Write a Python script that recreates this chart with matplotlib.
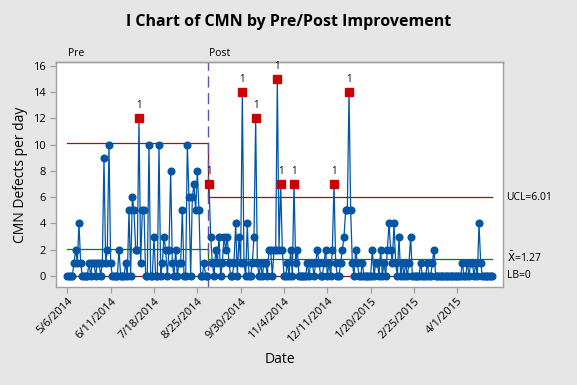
import matplotlib
matplotlib.use("Agg")
import matplotlib.pyplot as plt
import numpy as np

plt.rcParams["font.family"] = ["Open Sans", "DejaVu Sans"]

# daily CMN defect counts
pre_values = [
    0, 0, 0, 0, 1, 2, 1, 4, 1, 0, 0, 0, 0, 1, 0, 1, 1, 0, 1, 1,
    0, 1, 9, 1, 2, 10, 1, 0, 0, 0, 0, 2, 0, 0, 0, 1, 0, 5, 0, 6,
    5, 2, 2, 12, 1, 5, 5, 0, 0, 10, 0, 0, 3, 0, 0, 10, 0, 1, 3, 2,
    0, 2, 8, 1, 0, 2, 0, 1, 1, 5, 0, 0, 10, 6, 0, 6, 7, 5, 8, 5,
    0, 0, 1, 0, 0,
]
post_values = [
    7, 3, 1, 0, 2, 1, 3, 0, 1, 3, 2, 3, 1, 0, 0, 1, 4, 0, 3, 1,
    14, 1, 0, 4, 0, 0, 1, 3, 12, 1, 0, 1, 0, 1, 1, 0, 2, 2, 0, 2,
    2, 15, 2, 7, 2, 0, 0, 1, 0, 2, 0, 7, 1, 2, 0, 0, 0, 0, 0, 1,
    0, 1, 1, 0, 1, 2, 1, 0, 0, 1, 2, 0, 1, 0, 2, 7, 1, 0, 0, 1,
    2, 3, 5, 5, 14, 5, 1, 0, 2, 1, 0, 0, 1, 0, 0, 0, 0, 0, 2, 0,
    1, 1, 0, 2, 0, 1, 0, 2, 4, 2, 1, 4, 1, 0, 3, 0, 1, 0, 1, 0,
    1, 3, 0, 0, 0, 0, 0, 1, 0, 0, 0, 1, 0, 0, 1, 2, 0, 0, 0, 0,
    0, 0, 0, 0, 0, 0, 0, 0, 0, 0, 0, 0, 1, 0, 0, 1, 0, 1, 1, 0,
    1, 0, 4, 1, 0, 0, 0, 0, 0, 0, 0,
]

stage_names = ["Pre", "Post"]
stage_center = [2.07, 1.27]
stage_ucl = [10.13, 6.01]
stage_lb = [0, 0]

tick_labels = ["5/6/2014", "6/11/2014", "7/18/2014", "8/25/2014", "9/30/2014",
               "11/4/2014", "12/11/2014", "1/20/2015", "2/25/2015", "4/1/2015"]
tick_step = 26

values = np.array(pre_values + post_values)
n_pre = len(pre_values)
x = np.arange(len(values))

blue = "#0055A5"
red = "#CC0000"
green = "#008000"
limit_red = "#8B1A1A"

fig = plt.figure(figsize=(5.77, 3.85), dpi=100, facecolor="#E6E6E6")
ax = fig.add_axes([0.0976, 0.2538, 0.7736, 0.5852])
ax.set_facecolor("white")

split = n_pre - 0.5
bounds = [(0, split), (split, len(values) - 1)]
for k in range(2):
    x0, x1 = bounds[k]
    ax.plot([x0, x1], [stage_ucl[k]] * 2, color=limit_red, lw=0.9, zorder=1)
    ax.plot([x0, x1], [stage_lb[k]] * 2, color=limit_red, lw=0.9, zorder=1)
    ax.plot([x0, x1], [stage_center[k]] * 2, color=green, lw=0.9, zorder=1)
ax.plot([split, split], [stage_ucl[0], stage_ucl[1]], color=limit_red, lw=0.9, zorder=1)
ax.plot([split, split], [stage_center[0], stage_center[1]], color=green, lw=0.9, zorder=1)

ax.axvline(split, color="#6B4FA6", lw=1.0, ls=(0, (8, 4)), zorder=1)

for seg in [slice(0, n_pre), slice(n_pre, len(values))]:
    ax.plot(x[seg], values[seg], color=blue, lw=0.9, marker="o", ms=4.8,
            mec=blue, mfc=blue, zorder=2)

ucl_per_point = np.where(x < n_pre, stage_ucl[0], stage_ucl[1])
out = values > ucl_per_point
ax.plot(x[out], values[out], ls="none", marker="s", ms=5.5, mfc=red, mec=red, zorder=3)
for xi, yi in zip(x[out], values[out]):
    ax.text(xi, yi + 0.55, "1", ha="center", va="bottom", fontsize=7, color="black")

ax.set_xlim(-6.6, 261.2)
ax.set_ylim(-0.86, 16.3)
ax.set_yticks(range(0, 17, 2))
ax.set_xticks(np.arange(len(tick_labels)) * tick_step)
ax.set_xticklabels(tick_labels, rotation=45, ha="right", rotation_mode="anchor")
ax.tick_params(axis="both", labelsize=8, color="#A0A0A0", length=4, width=0.9)
ax.tick_params(axis="x", pad=2)
for s in ax.spines.values():
    s.set_color("#A0A0A0")
    s.set_linewidth(1.0)

ax.set_ylabel("CMN Defects per day", fontsize=10)
ax.set_xlabel("Date", fontsize=10, labelpad=5)

ax.text(0.5, 16.55, stage_names[0], fontsize=7.5, va="bottom", ha="left")
ax.text(split + 0.8, 16.55, stage_names[1], fontsize=7.5, va="bottom", ha="left")
ax.axhline(16.3, color="#A0A0A0", lw=1.0, clip_on=False)

ax.text(263.5, stage_ucl[1], f"UCL={stage_ucl[1]:.2f}", fontsize=7.5, va="center", ha="left")
ax.text(263.5, stage_center[1] + 0.1, r"$\bar{\mathrm{X}}$" + f"={stage_center[1]:.2f}",
        fontsize=7.5, va="center", ha="left")
ax.text(263.5, 0, "LB=0", fontsize=7.5, va="center", ha="left")

fig.text(0.5, 0.943, "I Chart of CMN by Pre/Post Improvement", ha="center", va="center",
         fontsize=11.5, fontweight="bold")

fig.savefig("out.png", dpi=100, facecolor=fig.get_facecolor())
